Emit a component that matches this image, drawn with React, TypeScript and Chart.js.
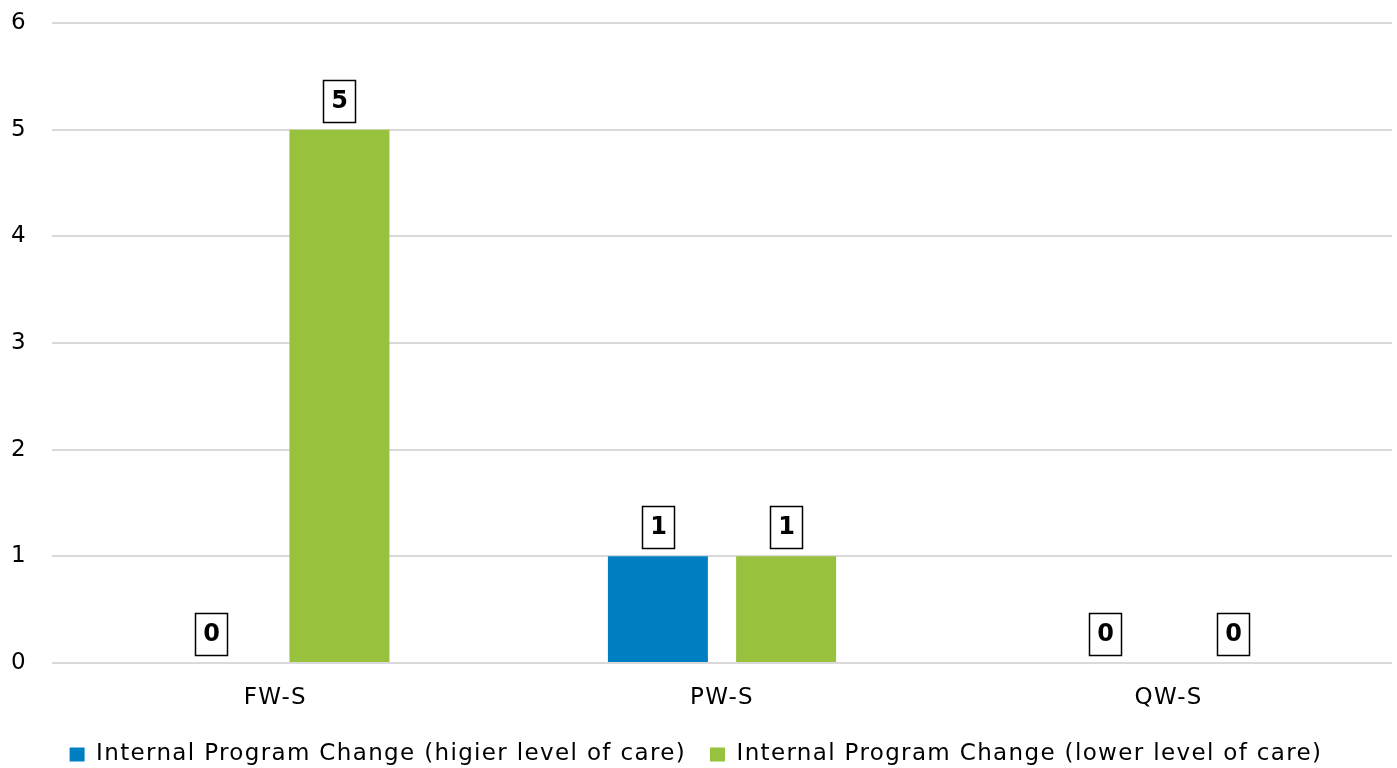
import React, { useEffect, useRef } from "react";
import { Chart, registerables } from "chart.js";

Chart.register(...registerables);

const categories = ["FW-S", "PW-S", "QW-S"];
const higherCare = [0, 1, 0];
const lowerCare = [5, 1, 0];
const seriesNames = [
  "Internal Program Change (higier level of care)",
  "Internal Program Change (lower level of care)",
];
const yTicks = [0, 1, 2, 3, 4, 5, 6];

const FONT = "'DejaVu Sans', sans-serif";
const CANVAS_W = 1397;
const CANVAS_H = 776;
const SPACING = "1.35px";

const spacingPlugin = {
  id: "letterSpacing",
  beforeUpdate(chart: any) {
    chart.ctx.letterSpacing = SPACING;
  },
  beforeDraw(chart: any) {
    chart.ctx.letterSpacing = SPACING;
  },
};

const boxLabelPlugin = {
  id: "boxLabels",
  afterDatasetsDraw(chart: any) {
    const ctx = chart.ctx;
    ctx.save();
    ctx.letterSpacing = "0px";
    chart.data.datasets.forEach((ds: any, i: number) => {
      const meta = chart.getDatasetMeta(i);
      meta.data.forEach((el: any, j: number) => {
        const v = ds.data[j];
        if (v === null || v === undefined) return;
        const w = 32;
        const h = 42;
        const x = Math.round(el.x - w / 2);
        const y = Math.round(el.y - 8 - h);
        ctx.strokeStyle = "#000";
        ctx.lineWidth = 1.5;
        ctx.strokeRect(x + 0.5, y + 0.5, w, h);
        ctx.fillStyle = "#000";
        ctx.font = `bold 24px ${FONT}`;
        ctx.textAlign = "center";
        ctx.textBaseline = "middle";
        ctx.fillText(String(v), x + w / 2 + 0.5, y + h / 2 + 1);
      });
    });
    ctx.restore();
  },
};

export default function App() {
  const ref = useRef<HTMLCanvasElement | null>(null);

  useEffect(() => {
    if (!ref.current) return;
    const chart = new Chart(ref.current, {
      type: "bar",
      data: {
        labels: categories,
        datasets: [
          {
            label: seriesNames[0],
            data: higherCare,
            backgroundColor: "#0080c2",
            categoryPercentage: 0.574,
            barPercentage: 0.78,
          },
          {
            label: seriesNames[1],
            data: lowerCare,
            backgroundColor: "#98c13d",
            categoryPercentage: 0.574,
            barPercentage: 0.78,
          },
        ],
      },
      options: {
        responsive: false,
        animation: false,
        layout: { padding: { top: 23, right: 5, left: 0, bottom: 0 } },
        plugins: {
          tooltip: { enabled: false },
          legend: {
            position: "bottom",
            labels: {
              color: "#000",
              font: { family: FONT, size: 23 },
              boxWidth: 15,
              boxHeight: 14,
              padding: 24,
            },
          },
        },
        scales: {
          x: {
            grid: { display: false, drawTicks: false },
            border: { display: false },
            ticks: {
              color: "#000",
              font: { family: FONT, size: 23 },
              padding: 21,
            },
            afterFit: (s: any) => {
              s.height = 56;
            },
          },
          y: {
            min: yTicks[0],
            max: yTicks[yTicks.length - 1],
            grid: {
              color: "#d9d9d9",
              lineWidth: 2,
              drawTicks: true,
              tickLength: 25,
              tickColor: "rgba(0,0,0,0)",
            },
            border: { display: false },
            ticks: {
              stepSize: 1,
              color: "#000",
              font: { family: FONT, size: 23 },
              padding: 0,
            },
            afterFit: (s: any) => {
              s.width = 52;
            },
          },
        },
      },
      plugins: [spacingPlugin, boxLabelPlugin],
    });
    return () => chart.destroy();
  }, []);

  return (
    <div
      style={{
        position: "fixed",
        left: 0,
        top: 0,
        width: CANVAS_W,
        height: 768,
        overflow: "hidden",
        background: "#fff",
      }}
    >
      <canvas
        ref={ref}
        width={CANVAS_W}
        height={CANVAS_H}
        style={{ display: "block", width: CANVAS_W, height: CANVAS_H }}
      />
    </div>
  );
}
